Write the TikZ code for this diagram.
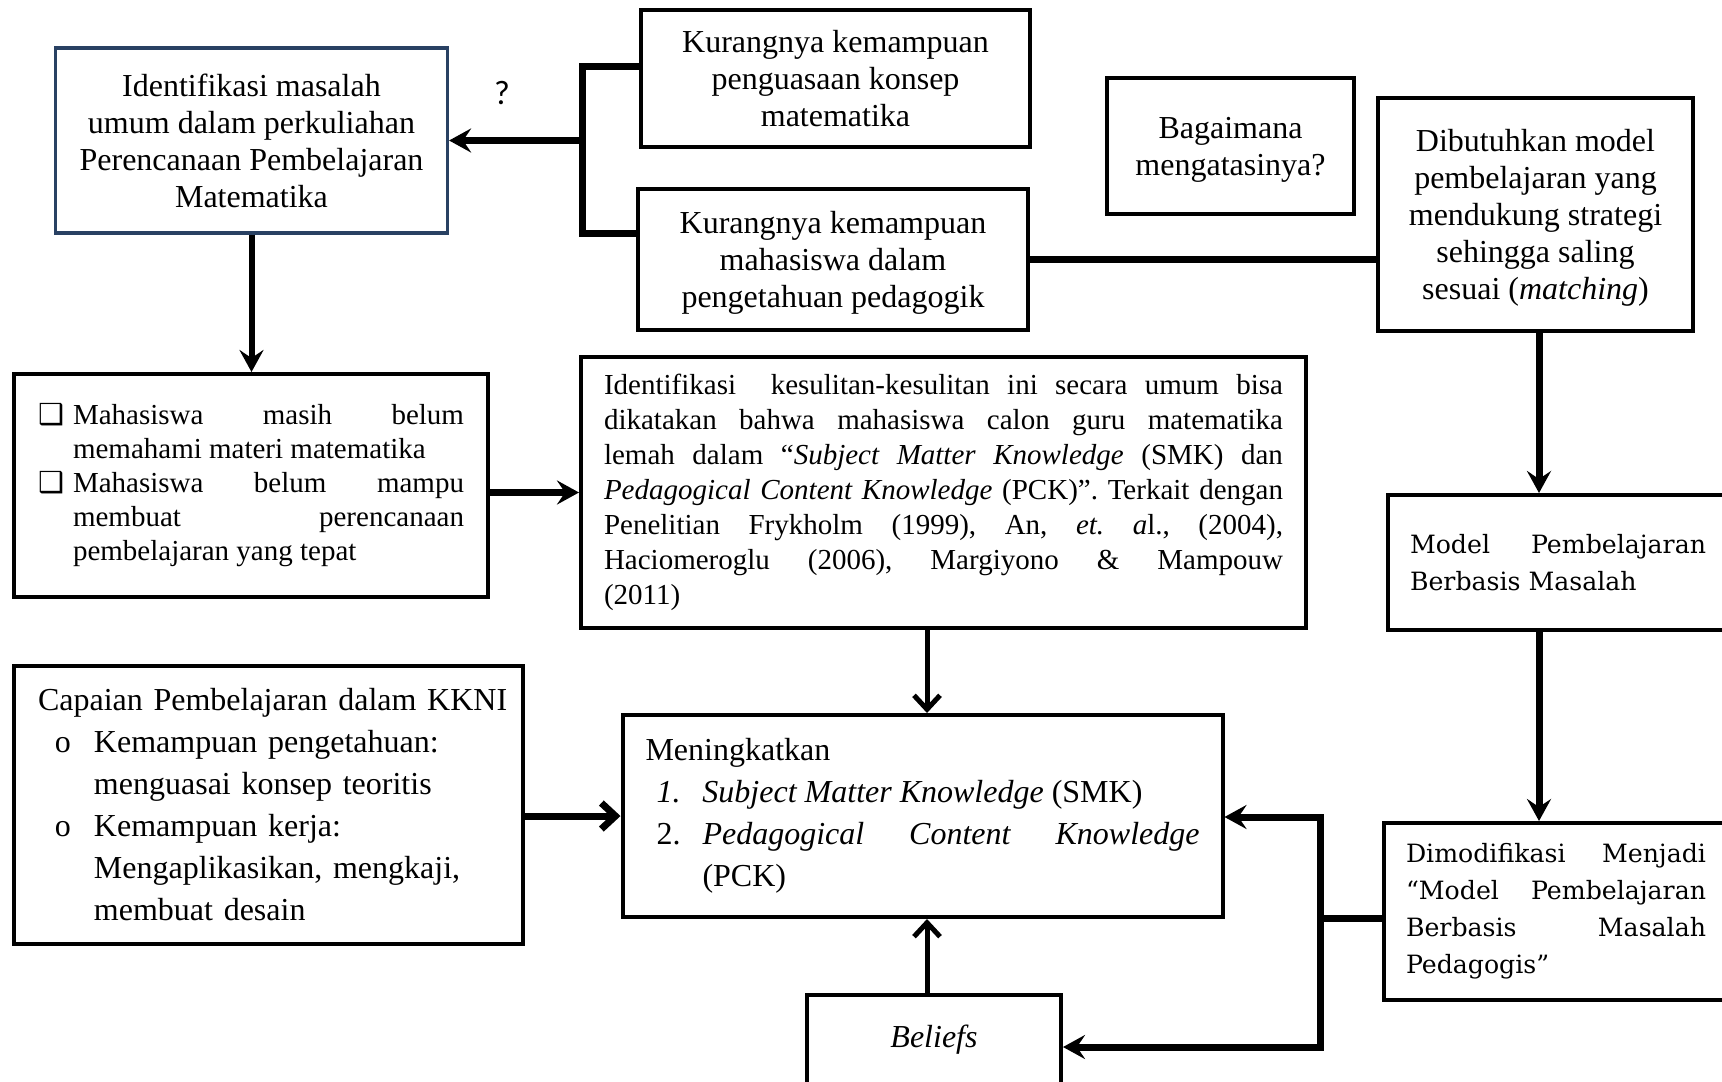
\documentclass[tikz,border=0pt]{standalone}
\usepackage{fontspec}
\setmainfont{Liberation Serif}
\newfontfamily\boxfont{DejaVu Serif}
\newfontfamily\dingfont{DejaVu Sans}
\newfontfamily\qfont{Carlito}
\usetikzlibrary{arrows.meta, positioning}
\definecolor{birutua}{RGB}{41,65,99}
\setlength{\parindent}{0pt}
\hyphenpenalty=10000
\exhyphenpenalty=10000
\frenchspacing

\begin{document}
\begin{tikzpicture}[x=0.5pt, y=-0.5pt,
    kotak/.style={draw, line width=2pt, inner sep=0pt, align=center, font=\fontsize{16pt}{18.5pt}\selectfont},
    garis/.style={line width=3.5pt},
    ujung/.tip={Stealth[length=11pt,width=12pt,inset=4pt]},
    barb/.tip={Straight Barb[length=7pt,width=13pt]},
    panah/.style={line width=3.5pt, -ujung},
    panahtipis/.style={line width=2.5pt, -barb}]
    \useasboundingbox (0,0) rectangle (1722,1081);

    % Masalah dan penyebabnya
    \node[kotak, draw=birutua, line width=1.6pt, minimum width=196pt, minimum height=92.5pt] (idmasalah) at (251.5,140.5)
        {Identifikasi masalah\\umum dalam perkuliahan\\Perencanaan Pembelajaran\\Matematika};
    \node[kotak, minimum width=194.5pt, minimum height=68.5pt] (konsep) at (835.5,78.5)
        {Kurangnya kemampuan\\penguasaan konsep\\matematika};
    \node[kotak, minimum width=195pt, minimum height=70.5pt, text depth=-2.5pt] (pedagogik) at (833,259.5)
        {Kurangnya kemampuan\\mahasiswa dalam\\pengetahuan pedagogik};
    \node[kotak, minimum width=123.5pt, minimum height=68pt, text depth=-2pt] (mengatasi) at (1230.5,146)
        {Bagaimana\\mengatasinya?};
    \node[kotak, minimum width=157.5pt, minimum height=116.5pt, text depth=-2pt] (dibutuhkan) at (1535.5,214.5)
        {Dibutuhkan model\\pembelajaran yang\\mendukung strategi\\sehingga saling\\sesuai (\textit{matching})};
    \node[font=\qfont\fontsize{17pt}{17pt}\selectfont] (tanya) at (502,93) {?};

    % Model pembelajaran
    \node[kotak, anchor=north west, align=justify, text width=180pt, inner xsep=11pt, minimum height=67.5pt,
        font=\boxfont\fontsize{12.6pt}{18.5pt}\selectfont] (pbm) at (1386,493)
        {\parbox{148pt}{Model Pembelajaran\linebreak Berbasis Masalah}};
    \node[kotak, anchor=north west, align=justify, text width=180pt, inner xsep=11pt, minimum height=88.5pt,
        font=\boxfont\fontsize{12.6pt}{18.5pt}\selectfont] (modif) at (1382,821)
        {\parbox{150pt}{Dimodifikasi Menjadi\linebreak “Model Pembelajaran\linebreak Berbasis Masalah\linebreak Pedagogis”}};

    % Kesulitan mahasiswa
    \node[kotak, align=justify, text width=213pt, inner xsep=12pt, minimum height=111.5pt,
        font=\fontsize{14.5pt}{17pt}\selectfont] (mhsbelum) at (251,485.5)
        {\hangindent=17.5pt\hangafter=1\makebox[17.5pt][l]{\dingfont ❑}Mahasiswa masih belum\linebreak memahami materi matematika\par
         \hangindent=17.5pt\hangafter=1\makebox[17.5pt][l]{\dingfont ❑}Mahasiswa belum mampu\linebreak membuat perencanaan\linebreak pembelajaran yang tepat\par};
    \node[kotak, align=justify, text width=339.5pt, inner xsep=11.5pt, minimum height=135.5pt,
        font=\fontsize{14.5pt}{17.5pt}\selectfont] (kesulitan) at (943.5,492.5)
        {Identifikasi\ \ kesulitan-kesulitan ini secara umum bisa\linebreak
         dikatakan bahwa mahasiswa calon guru matematika\linebreak
         lemah dalam “\textit{Subject Matter Knowledge} (SMK) dan\linebreak
         \textit{Pedagogical Content Knowledge} (PCK)”. Terkait dengan\linebreak
         Penelitian Frykholm (1999), An, \textit{et.}\ \textit{a}l., (2004),\linebreak
         Haciomeroglu (2006), Margiyono \& Mampouw\linebreak
         (2011)\par};

    % Capaian dan tujuan
    \node[kotak, align=left, text width=230.5pt, inner xsep=12pt, minimum height=139pt,
        font=\fontsize{16pt}{21pt}\selectfont] (capaian) at (268.5,805)
        {\mbox{Capaian Pembelajaran dalam KKNI}\par
         \hangindent=28pt\hangafter=1\makebox[28pt][l]{\hspace{8.5pt}o}Kemampuan pengetahuan:\newline menguasai konsep teoritis\par
         \hangindent=28pt\hangafter=1\makebox[28pt][l]{\hspace{8.5pt}o}Kemampuan kerja:\newline Mengaplikasikan, mengkaji,\newline membuat desain\par};
    \node[kotak, align=justify, text width=277pt, inner xsep=11.5pt, minimum height=101pt,
        font=\fontsize{16pt}{21pt}\selectfont] (meningkatkan) at (922.5,816)
        {Meningkatkan\par
         \hangindent=28.5pt\hangafter=1\makebox[28.5pt][l]{\hspace{5.5pt}\textit{1.}}\textit{Subject Matter Knowledge} (SMK)\par
         \hangindent=28.5pt\hangafter=1\makebox[28.5pt][l]{\hspace{5.5pt}2.}\textit{Pedagogical Content Knowledge}\linebreak (PCK)\par};
    \node[kotak, minimum width=127pt, minimum height=44.5pt] (beliefs) at (934,1039.5) {\textit{Beliefs}};

    % Connections
    \coordinate (brtop) at (582,67);
    \coordinate (brbot) at (582,233);
    \coordinate (kanan) at (1539,0);
    \coordinate (tengah) at (927,0);
    \coordinate (brFtop) at (1320,817);
    \coordinate (brFmid) at (1320,918);
    \coordinate (brFbot) at (1320,1047);

    \draw[garis] (konsep.west |- brtop) -- (brtop) -- (brbot) -- (pedagogik.west |- brbot);
    \draw[panah] (brtop |- idmasalah.east) -- (idmasalah.east);
    \draw[panah, line width=3pt] (idmasalah.south) -- (idmasalah.south |- mhsbelum.north);
    \draw[panah] (mhsbelum.east |- kesulitan.west) -- (kesulitan.west);
    \draw[garis] (pedagogik.east) -- (pedagogik.east -| dibutuhkan.west);
    \draw[panah] (kanan |- dibutuhkan.south) -- (kanan |- pbm.north);
    \draw[panah] (kanan |- pbm.south) -- (kanan |- modif.north);
    \draw[panahtipis] (tengah |- kesulitan.south) -- (tengah |- meningkatkan.north);
    \draw[panahtipis] (tengah |- beliefs.north) -- (tengah |- meningkatkan.south);
    \draw[panahtipis, line width=3.5pt] (capaian.east |- meningkatkan.west) -- (meningkatkan.west);
    \draw[garis] (modif.west |- brFmid) -- (brFmid);
    \draw[garis, ujung-ujung] (meningkatkan.east |- brFtop) -- (brFtop) -- (brFbot) -- (beliefs.east |- brFbot);
\end{tikzpicture}
\end{document}
